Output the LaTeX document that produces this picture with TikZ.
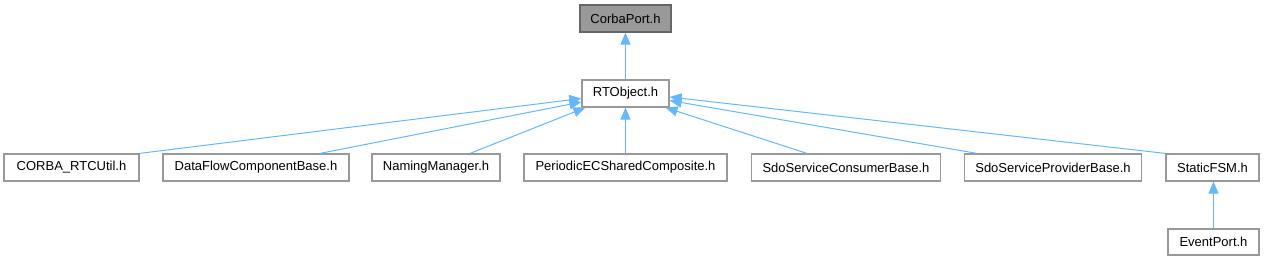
\documentclass[tikz,border=0pt]{standalone}
\usepackage{fontspec}
\setmainfont{Liberation Sans}
\usetikzlibrary{arrows.meta,calc}
\definecolor{edgeblue}{HTML}{63B8FF}
\definecolor{boxborder}{HTML}{999999}
\definecolor{rootfill}{HTML}{999999}
\definecolor{rootborder}{HTML}{666666}
\tikzset{
  filebox/.style={draw=boxborder, fill=white, line width=1.2pt, minimum height=27pt, inner sep=0pt, font=\fontsize{13}{15}\selectfont, text=black},
  rootbox/.style={filebox, fill=rootfill, draw=rootborder},
  dep/.style={draw=edgeblue, line width=1pt, -{Triangle[length=12pt,width=10pt]}},
}
\begin{document}
\begin{tikzpicture}[x=1pt,y=-1pt]
\useasboundingbox (0,0) rectangle (1266,261);
\node[rootbox, minimum width=91pt] (corba) at (625.5,18.5) {CorbaPort.h};
\node[filebox, minimum width=87pt] (rto) at (625.5,93.5) {RTObject.h};
\node[filebox, minimum width=135pt] (util) at (71.5,167.5) {CORBA\_RTCUtil.h};
\node[filebox, minimum width=186pt] (dfc) at (256,167.5) {DataFlowComponentBase.h};
\node[filebox, minimum width=128pt] (nm) at (436,167.5) {NamingManager.h};
\node[filebox, minimum width=203pt] (pec) at (625.5,167.5) {PeriodicECSharedComposite.h};
\node[filebox, minimum width=189pt] (sc) at (846,167.5) {SdoServiceConsumerBase.h};
\node[filebox, minimum width=177pt] (sp) at (1053,167.5) {SdoServiceProviderBase.h};
\node[filebox, minimum width=93pt] (fsm) at (1212.5,167.5) {StaticFSM.h};
\node[filebox, minimum width=91pt, minimum height=26pt] (ev) at (1213.5,242) {EventPort.h};

\draw[dep] (rto.north) -- (corba.south);
\draw[dep] (util.north east) -- ([yshift=-5pt]rto.west);
\draw[dep] ($(dfc.north)+(64,0)$) -- ([yshift=-8.5pt]rto.west);
\draw[dep] ($(nm.north)+(34,0)$) -- ([xshift=4pt]rto.south west);
\draw[dep] (pec.north) -- (rto.south);
\draw[dep] ($(sc.north)+(-39,0)$) -- ([xshift=-4pt]rto.south east);
\draw[dep] ($(sp.north)+(-76,0)$) -- ([yshift=-7pt]rto.east);
\draw[dep] (fsm.north west) -- ([yshift=-3.5pt]rto.east);
\draw[dep] (ev.north) -- (ev.north |- fsm.south);
\end{tikzpicture}
\end{document}
